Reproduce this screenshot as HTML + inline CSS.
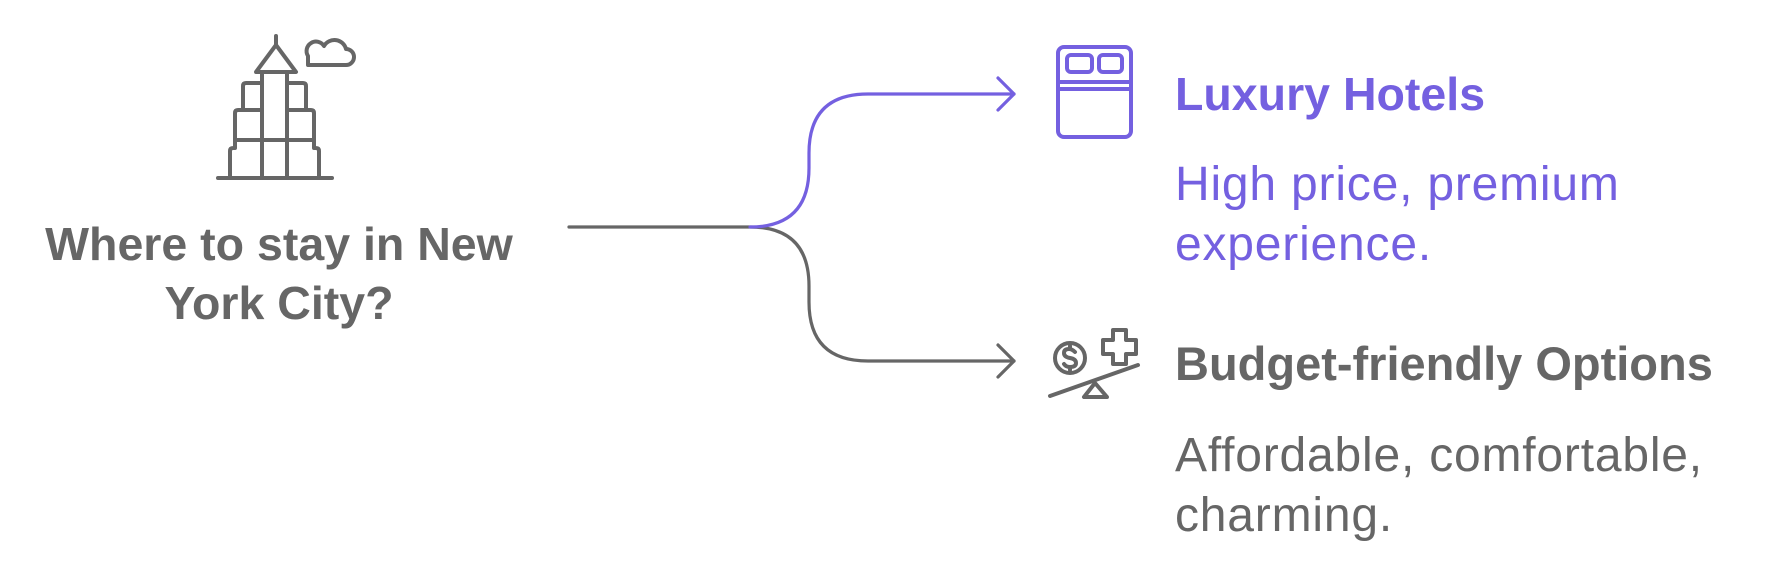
<!DOCTYPE html>
<html><head><meta charset="utf-8"><style>
html,body{margin:0;padding:0;background:#fff;}
svg{display:block}
text{font-family:"Liberation Sans",sans-serif;}
</style></head><body>
<svg width="1770" height="573" viewBox="0 0 1770 573" xmlns="http://www.w3.org/2000/svg">
<g fill="none" stroke="#666" stroke-width="4" stroke-linecap="round" stroke-linejoin="round">
  <path d="M276 36 L276 45 M256 72 L276 45 L296 72 Z"/>
  <path d="M262 72 V178 M287 72 V178"/>
  <path d="M262 83 H246 Q243 83 243 86 V110 H262 M287 83 H303 Q306 83 306 86 V110 H287"/>
  <path d="M243 110 H238 Q235 110 235 113 V140 H262 M306 110 H311 Q314 110 314 113 V140 H287"/>
  <path d="M262 140 H287"/>
  <path d="M235 148 H233 Q230 148 230 151 V178 M314 148 H316 Q319 148 319 151 V178 M235 140 V148 M314 140 V148"/>
  <path d="M218 178 H332"/>
  <path d="M308 65 H346 A8 8 0 0 0 346 49 A12 12 0 0 0 324 46 A9 9 0 0 0 308 56 Z"/>
</g>
<g fill="none" stroke="#666" stroke-width="3.2" stroke-linecap="round" stroke-linejoin="round">
  <path d="M569 227 H750 Q809 227 809 286 V302 Q809 361 868 361 H1014"/>
  <path d="M998 345 L1014 361 L998 377"/>
</g>
<g fill="none" stroke="#7460E0" stroke-width="3.2" stroke-linecap="round" stroke-linejoin="round">
  <path d="M750 227 Q809 227 809 168 V153 Q809 94 868 94 H1014"/>
  <path d="M998 78 L1014 94 L998 110"/>
</g>
<g fill="none" stroke="#7460E0" stroke-width="4" stroke-linecap="round" stroke-linejoin="round">
  <rect x="1058" y="47" width="73" height="90" rx="6"/>
  <rect x="1067" y="55" width="25" height="17" rx="4"/>
  <rect x="1099" y="55" width="23" height="17" rx="4"/>
  <path d="M1058 82 H1131 M1058 89 H1131"/>
</g>
<g fill="none" stroke="#666" stroke-width="4" stroke-linecap="round" stroke-linejoin="round">
  <circle cx="1070" cy="358" r="15"/>
  <path d="M1075 352 Q1072 349 1069 349 Q1064 349 1064 353 Q1064 357 1070 358 Q1076 359 1076 363 Q1076 367 1070 367 Q1066 367 1064 364 M1070 346 V349 M1070 367 V370"/>
  <path d="M1113 330 H1126 V340 H1136 V354 H1126 V364 H1113 V354 H1103 V340 H1113 Z"/>
  <path d="M1050 396 L1138 365"/>
  <path d="M1095 383 L1084 397 H1107 Z"/>
</g>
<text x="279" y="260" font-size="46.5" font-weight="bold" fill="#666" text-anchor="middle">Where to stay in New</text>
<text x="279" y="319" font-size="46.5" font-weight="bold" fill="#666" text-anchor="middle">York City?</text>
<text x="1175" y="110" font-size="46.5" font-weight="bold" fill="#7460E0">Luxury Hotels</text>
<text x="1175" y="200" font-size="48" fill="#7460E0" letter-spacing="0.8">High price, premium</text>
<text x="1175" y="260" font-size="48" fill="#7460E0" letter-spacing="0.8">experience.</text>
<text x="1175" y="380" font-size="47" font-weight="bold" fill="#666">Budget-friendly Options</text>
<text x="1175" y="471" font-size="48" fill="#666" letter-spacing="0.8">Affordable, comfortable,</text>
<text x="1175" y="531" font-size="48" fill="#666" letter-spacing="0.8">charming.</text>
</svg>
</body></html>
